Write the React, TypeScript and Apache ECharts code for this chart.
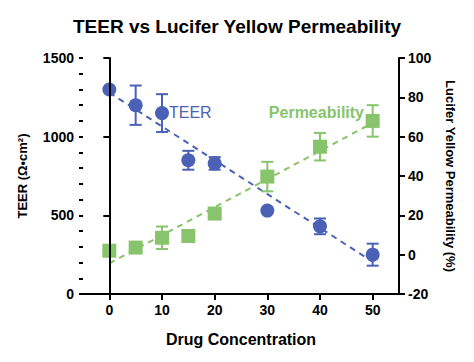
import React, { useEffect, useRef } from "react";
import * as echarts from "echarts";

const concentrations = [0, 5, 10, 15, 20, 30, 40, 50];
const teerValues = [1300, 1200, 1150, 850, 830, 530, 430, 250];
const teerErrors = [0, 125, 120, 60, 40, 0, 50, 70];
const permValues = [2, 3.6, 8.6, 9.5, 20.9, 39.7, 54.9, 68];
const permErrors = [0, 0, 5.7, 0, 0, 7.5, 7, 8];
const teerTrend = [
  [0, 1280],
  [50, 205],
];
const permTrend = [
  [0, -4.4],
  [50, 67],
];
const xTicks = [0, 10, 20, 30, 40, 50];

const BLUE = "#4a61b5";
const GREEN = "#88c46b";
const FONT = "Liberation Sans";

function errorBarSeries(values: number[], errors: number[], color: string, yAxisIndex: number) {
  return {
    type: "custom",
    yAxisIndex,
    z: 3,
    data: concentrations.map((c, i) => [c, values[i], errors[i]]),
    renderItem: (_params: any, api: any) => {
      const x = api.value(0);
      const y = api.value(1);
      const e = api.value(2);
      if (!e) return { type: "group", children: [] };
      const top = api.coord([x, y + e]);
      const bot = api.coord([x, y - e]);
      const cap = 6;
      const style = { stroke: color, lineWidth: 2 };
      return {
        type: "group",
        children: [
          { type: "line", shape: { x1: top[0], y1: top[1], x2: bot[0], y2: bot[1] }, style },
          { type: "line", shape: { x1: top[0] - cap, y1: top[1], x2: top[0] + cap, y2: top[1] }, style },
          { type: "line", shape: { x1: bot[0] - cap, y1: bot[1], x2: bot[0] + cap, y2: bot[1] }, style },
        ],
      };
    },
  };
}

export default function App() {
  const ref = useRef<HTMLDivElement>(null);
  useEffect(() => {
    if (!ref.current) return;
    const chart = echarts.init(ref.current, undefined, { renderer: "svg" });
    const axisText = { color: "#000", fontFamily: FONT, fontWeight: "bold", fontSize: 14 };
    const axisLine = { show: true, lineStyle: { color: "#000", width: 2 } };
    chart.setOption({
      animation: false,
      backgroundColor: "#fff",
      title: {
        text: "TEER vs Lucifer Yellow Permeability",
        left: "center",
        top: 12,
        textStyle: { fontFamily: FONT, fontWeight: "bold", fontSize: 19, color: "#000" },
      },
      grid: { left: 83, right: 75, top: 58, bottom: 68 },
      xAxis: {
        type: "value",
        min: -5,
        max: 55,
        name: "Drug Concentration",
        nameLocation: "middle",
        nameGap: 37,
        nameTextStyle: { ...axisText, fontSize: 16 },
        axisLine: { ...axisLine, onZero: false },
        axisTick: { show: true, length: 6, customValues: xTicks, lineStyle: { color: "#000", width: 2 } },
        axisLabel: { ...axisText, margin: 9, customValues: xTicks },
        splitLine: { show: false },
      },
      yAxis: [
        {
          type: "value",
          min: 0,
          max: 1500,
          interval: 500,
          name: "TEER (Ω•cm²)",
          nameLocation: "middle",
          nameGap: 54,
          nameTextStyle: { ...axisText, fontSize: 13 },
          axisLine,
          axisTick: { show: true, length: 6, lineStyle: { color: "#000", width: 2 } },
          axisLabel: { ...axisText, margin: 9, formatter: (v: number) => String(v) },
          splitLine: { show: false },
          z: 5,
        },
        {
          type: "value",
          min: -20,
          max: 100,
          interval: 20,
          position: "right",
          name: "Lucifer Yellow Permeability (%)",
          nameLocation: "middle",
          nameGap: 45,
          nameRotate: -90,
          nameTextStyle: { ...axisText, fontSize: 13 },
          axisLine,
          axisTick: { show: true, length: 6, lineStyle: { color: "#000", width: 2 } },
          axisLabel: { ...axisText, margin: 9 },
          splitLine: { show: false },
        },
        {
          type: "value",
          min: 0,
          max: 1500,
          interval: 100,
          position: "left",
          axisLine: { show: false },
          axisTick: { show: true, length: 4, lineStyle: { color: "#000", width: 2 } },
          axisLabel: { show: false },
          splitLine: { show: false },
        },
      ],
      graphic: [
        {
          type: "text",
          x: 169,
          y: 112,
          style: { text: "TEER", fill: BLUE, font: `16px "${FONT}"`, textVerticalAlign: "middle" },
        },
        {
          type: "text",
          x: 364,
          y: 112,
          style: {
            text: "Permeability",
            fill: GREEN,
            font: `bold 16px "${FONT}"`,
            textAlign: "right",
            textVerticalAlign: "middle",
          },
        },
      ],
      series: [
        {
          type: "line",
          yAxisIndex: 1,
          data: permTrend,
          symbol: "none",
          z: 1,
          lineStyle: { color: GREEN, width: 2, type: [6, 5] },
        },
        {
          type: "line",
          yAxisIndex: 0,
          data: teerTrend,
          symbol: "none",
          z: 2,
          lineStyle: { color: BLUE, width: 2, type: [6, 5] },
        },
        errorBarSeries(permValues, permErrors, GREEN, 1),
        errorBarSeries(teerValues, teerErrors, BLUE, 0),
        {
          type: "scatter",
          yAxisIndex: 1,
          data: concentrations.map((c, i) => [c, permValues[i]]),
          symbol: "rect",
          symbolSize: 14,
          z: 4,
          itemStyle: { color: GREEN, opacity: 1 },
        },
        {
          type: "scatter",
          yAxisIndex: 0,
          data: concentrations.map((c, i) => [c, teerValues[i]]),
          symbol: "circle",
          symbolSize: 14,
          z: 4,
          itemStyle: { color: BLUE, opacity: 1 },
        },
      ],
    });
    return () => chart.dispose();
  }, []);
  return <div ref={ref} style={{ position: "fixed", left: 0, top: 0, width: 474, height: 362 }} />;
}
